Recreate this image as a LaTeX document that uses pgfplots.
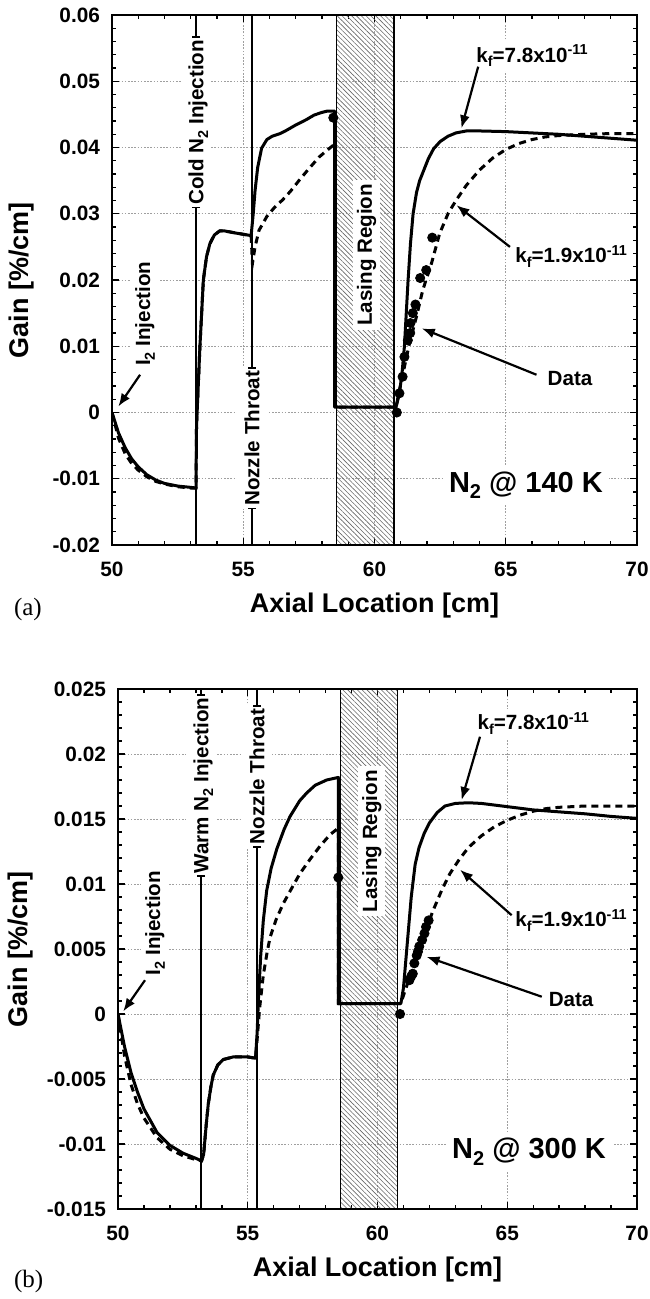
\documentclass[border=0pt]{standalone}
\usepackage{fontspec}
\setmainfont{Liberation Sans}
\newfontfamily\tnr{Liberation Serif}
\usepackage{pgfplots}
\pgfplotsset{compat=1.18}
\usetikzlibrary{patterns.meta, arrows.meta}

\newcommand\tkfont{\fontsize{10.4}{12}\selectfont\bfseries}
\newcommand\afont{\fontsize{10.3}{12}\selectfont\bfseries}
\newcommand\lfont{\fontsize{13.5}{16}\selectfont\bfseries}
\newcommand\capb{\rule[1.7pt]{0.8pt}{4pt}\kern1pt}
\newcommand\cape{\kern1pt\rule[1.7pt]{0.8pt}{4pt}}
% lowered subscripts as in the original figure
\newcommand\sub[1]{\raisebox{-2.4pt}{\fontsize{7.2}{8}\selectfont #1}}
\newcommand\subL[1]{\raisebox{-3.4pt}{\fontsize{10}{11}\selectfont #1}}
\newcommand\sups[1]{\raisebox{3.6pt}{\fontsize{7.2}{8}\selectfont #1}}

\tikzset{
  ann/.style={-{Latex[length=6.5pt,width=5pt]}, line width=1.1pt},
  linelab/.style={rotate=90, fill=white, inner xsep=0pt, inner ysep=4pt,
    text height=7.4pt, text depth=0pt, font=\afont},
  boxlab/.style={fill=white, inner sep=2pt, font=\afont},
}

\pgfplotsset{
  gainax/.style={
    scale only axis, anchor=south west,
    xmin=50, xmax=70, xtick={50,55,60,65,70}, minor x tick num=4,
    minor y tick num=4, scaled y ticks=false,
    xtick pos=both, ytick pos=both, tick align=inside,
    major tick length=3.5pt, minor tick length=2pt,
    every tick/.style={black, line width=0.7pt},
    axis line style={line width=0.8pt},
    grid=major, major grid style={gray!75, line width=0.5pt, dash pattern=on 0.8pt off 0.8pt},
    /pgf/number format/assume math mode=true,
    ticklabel style={font=\tkfont},
    xticklabel style={yshift=-5pt},
    yticklabel style={xshift=-2.5pt},
    xlabel={Axial Location [cm]},
    ylabel={Gain [\%/cm]},
    label style={font=\lfont},
    xlabel style={at={(axis description cs:0.5,0)}, anchor=base, yshift=-33.5pt},
  },
  solidc/.style={black, line width=1.5pt, line join=round},
  dashc/.style={black, line width=1.5pt, dash pattern=on 3.5pt off 2.5pt},
  datam/.style={only marks, mark=*, mark size=2.3pt, black},
  vline/.style={black, line width=1pt},
  lasing/.style={draw=black, line width=0.7pt, pattern={Lines[angle=-45,distance=1.7pt,line width=0.3pt]}, pattern color=black!60},
}

\begin{document}
\begin{tikzpicture}
\useasboundingbox (0,0) rectangle (324.5pt,-649.5pt);

% ---------------- (a) N2 @ 140 K
\begin{axis}[gainax, at={(56pt,-272.5pt)}, width=262.5pt, height=265pt,
  ymin=-0.02, ymax=0.06,
  ytick={-0.02,-0.01,0,0.01,0.02,0.03,0.04,0.05,0.06},
  yticklabels={-0.02,-0.01,0,0.01,0.02,0.03,0.04,0.05,0.06},
  ylabel style={at={(axis description cs:-0.1733,0.5)}, anchor=center},
]
\addplot[lasing] coordinates {(58.55,-0.02) (58.55,0.06) (60.75,0.06) (60.75,-0.02) (58.55,-0.02)};
\addplot[vline] coordinates {(53.2,-0.02) (53.2,0.06)};
\addplot[vline, line width=1.2pt] coordinates {(55.33,-0.02) (55.33,0.06)};

% kf = 1.9e-11
\addplot[dashc] coordinates {
 (50,0) (50.25,-0.0039) (50.5,-0.0062) (50.75,-0.0077) (51,-0.0087) (51.33,-0.0097)
 (51.67,-0.0104) (52,-0.0108) (52.5,-0.0112) (53,-0.0114) (53.2,-0.0114)
 (53.22,-0.002) (53.35,0.010) (53.48,0.020) (53.6,0.0235) (53.73,0.0255) (53.9,0.0268)
 (54.1,0.0274) (54.3,0.0274) (54.7,0.0271) (55.0,0.0269) (55.3,0.0267)
 (55.35,0.0225) (55.45,0.025) (55.6,0.0275) (55.9,0.0296) (56.2,0.031) (56.5,0.0321)
 (56.8,0.0334) (57.14,0.0351) (57.5,0.0368) (57.9,0.0386) (58.2,0.0396) (58.48,0.0405)
 (58.48,0.0008) (60.82,0.0008)
 (60.95,0.0034) (61.14,0.0069) (61.33,0.0104) (61.6,0.0145) (61.84,0.0185) (62.17,0.0225)
 (62.48,0.027) (62.81,0.0301) (63.12,0.0321) (63.5,0.0343) (64.0,0.0366) (64.5,0.0384)
 (65.0,0.0397) (65.5,0.0406) (66.0,0.0412) (66.5,0.0416) (67.0,0.0418) (68.0,0.042)
 (69.0,0.0421) (70.0,0.0421)
};
% kf = 7.8e-11
\addplot[solidc] coordinates {
 (50,0) (50.25,-0.0031) (50.5,-0.0053) (50.75,-0.0070) (51,-0.0082) (51.33,-0.0094)
 (51.67,-0.0102) (52,-0.0107) (52.5,-0.0111) (53,-0.0113) (53.2,-0.0114)
 (53.22,-0.002) (53.35,0.010) (53.48,0.020) (53.6,0.0235) (53.73,0.0255) (53.9,0.0268)
 (54.1,0.0274) (54.3,0.0274) (54.7,0.0271) (55.0,0.0269) (55.3,0.0267)
 (55.38,0.030) (55.45,0.0335) (55.55,0.037) (55.7,0.0399) (55.9,0.0412) (56.1,0.0417)
 (56.4,0.0421) (56.65,0.0426) (57.0,0.0434) (57.4,0.0442) (57.7,0.0449) (58.0,0.0453)
 (58.2,0.0455) (58.48,0.0455)
 (58.48,0.0008) (60.82,0.0008)
 (60.95,0.0029) (61.05,0.006) (61.14,0.010) (61.21,0.015) (61.28,0.020) (61.37,0.0255)
 (61.47,0.030) (61.6,0.0332) (61.72,0.035) (61.84,0.0362) (62.05,0.0383) (62.25,0.0398)
 (62.5,0.0409) (62.8,0.0417) (63.1,0.0422) (63.5,0.0425) (64.0,0.0425) (65.0,0.0424)
 (66.0,0.0422) (67.0,0.042) (68.0,0.0417) (69.0,0.0414) (70.0,0.0411)
};
\addplot[datam] coordinates {
 (58.43,0.0445) (60.85,0) (60.95,0.0029) (61.07,0.0054) (61.14,0.0084) (61.27,0.0109)
 (61.36,0.012) (61.37,0.0135) (61.46,0.015) (61.56,0.0163) (61.74,0.0203) (61.97,0.0215)
 (62.2,0.0264)
};

\node[linelab] at (axis cs:53.2,0.0438) {\capb Cold N\sub{2} Injection\cape};
\node[linelab] at (axis cs:55.33,-0.0039) {\capb Nozzle Throat\cape};
\node[boxlab, rotate=90] at (axis cs:51.26,0.0149) {I\sub{2} Injection};
\draw[ann] (axis cs:51.07,0.0057) -- (axis cs:50.24,0.0009);
\node[boxlab, rotate=90] at (axis cs:59.7,0.0238) {Lasing Region};
\node[boxlab, anchor=base] at (axis cs:66.0,0.0529) {k\sub{f}=7.8x10\sups{-11}};
\draw[ann] (axis cs:63.95,0.0522) -- (axis cs:63.31,0.0429);
\node[boxlab, anchor=base] at (axis cs:67.49,0.02257) {k\sub{f}=1.9x10\sups{-11}};
\draw[ann] (axis cs:65.16,0.025) -- (axis cs:63.12,0.0313);
\node[boxlab, anchor=base] at (axis cs:67.45,0.00415) {Data};
\draw[ann] (axis cs:66.17,0.0057) -- (axis cs:61.8,0.0127);
\node[fill=white, inner sep=3pt, anchor=base, font=\fontsize{14.5}{17}\selectfont\bfseries]
  at (axis cs:65.77,-0.012) {N\subL{2} @ 140 K};
\end{axis}
\node[anchor=base west, font=\tnr\fontsize{12.5}{15}\selectfont] at (3.5pt,-307.5pt) {(a)};

% ---------------- (b) N2 @ 300 K
\begin{axis}[gainax, at={(59pt,-604.5pt)}, width=259.5pt, height=260pt,
  ymin=-0.015, ymax=0.025,
  ytick={-0.015,-0.01,-0.005,0,0.005,0.01,0.015,0.02,0.025},
  yticklabels={-0.015,-0.01,-0.005,0,0.005,0.01,0.015,0.02,0.025},
  ylabel style={at={(axis description cs:-0.1869,0.5)}, anchor=center},
]
\addplot[lasing] coordinates {(58.58,-0.015) (58.58,0.025) (60.78,0.025) (60.78,-0.015) (58.58,-0.015)};
\addplot[vline] coordinates {(53.2,-0.015) (53.2,0.025)};
\addplot[vline, line width=1.2pt] coordinates {(55.36,-0.015) (55.36,0.025)};

% kf = 1.9e-11
\addplot[dashc] coordinates {
 (50,0) (50.25,-0.0032) (50.5,-0.0054) (50.75,-0.0069) (51,-0.008) (51.5,-0.0095)
 (52,-0.0104) (52.5,-0.0109) (53,-0.0112) (53.22,-0.0113)
 (53.3,-0.0108) (53.4,-0.0085) (53.48,-0.0069) (53.58,-0.0056) (53.67,-0.0047)
 (53.85,-0.0039) (54.06,-0.0035) (54.44,-0.0033) (55.0,-0.0033) (55.3,-0.0034)
 (55.38,-0.0015) (55.46,0.0005) (55.6,0.003) (55.75,0.0048) (55.86,0.0059) (56.1,0.0073)
 (56.37,0.0085) (56.7,0.0097) (57.01,0.0108) (57.4,0.0119) (57.78,0.0129) (58.17,0.0138)
 (58.49,0.0143)
 (58.49,0.0008) (60.9,0.0008)
 (61.06,0.0018) (61.3,0.0031) (61.5,0.0043) (61.7,0.0056) (61.9,0.0067) (62.15,0.008)
 (62.47,0.0095) (62.79,0.0108) (63.12,0.0118) (63.5,0.0128) (64.0,0.0137) (64.5,0.0144)
 (65.0,0.0149) (65.5,0.0153) (66.0,0.0156) (66.5,0.0158) (67.0,0.0159) (68.0,0.016)
 (69.0,0.016) (70.0,0.016)
};
% kf = 7.8e-11
\addplot[solidc] coordinates {
 (50,0) (50.25,-0.0025) (50.5,-0.0045) (50.75,-0.006) (51,-0.0073) (51.5,-0.0091)
 (52,-0.0101) (52.5,-0.0107) (53,-0.0111) (53.22,-0.0113)
 (53.3,-0.0108) (53.4,-0.0085) (53.48,-0.0069) (53.58,-0.0056) (53.67,-0.0047)
 (53.85,-0.0039) (54.06,-0.0035) (54.44,-0.0033) (55.0,-0.0033) (55.3,-0.0034)
 (55.36,-0.0015) (55.42,0.0015) (55.5,0.0045) (55.6,0.0072) (55.73,0.0095) (55.9,0.0112)
 (56.12,0.0127) (56.4,0.0142) (56.63,0.0152) (57.0,0.0164) (57.27,0.017) (57.6,0.0176)
 (58.04,0.018) (58.49,0.0182)
 (58.49,0.0008) (60.9,0.0008)
 (61.0,0.002) (61.15,0.0055) (61.3,0.009) (61.45,0.0115) (61.6,0.0128) (61.8,0.0139)
 (62.0,0.0147) (62.3,0.0155) (62.6,0.016) (63.0,0.0162) (63.5,0.01625) (64.0,0.0162)
 (65.0,0.01595) (66.0,0.0157) (67.0,0.01555) (68.0,0.0154) (69.0,0.0152) (70.0,0.01505)
};
\addplot[datam] coordinates {
 (58.49,0.0105) (60.87,0) (61.23,0.0026) (61.3,0.0029) (61.36,0.0031) (61.42,0.0039)
 (61.51,0.0045) (61.56,0.0048) (61.61,0.0052) (61.72,0.0057) (61.81,0.0062)
 (61.87,0.0067) (61.97,0.0072)
};

\node[linelab] at (axis cs:53.2,0.01758) {\capb Warm N\sub{2} Injection\cape};
\node[linelab] at (axis cs:55.36,0.01827) {\capb Nozzle Throat\cape};
\node[boxlab, rotate=90] at (axis cs:51.43,0.007) {I\sub{2} Injection};
\draw[ann] (axis cs:51.04,0.0026) -- (axis cs:50.2,0.0002);
\node[boxlab, rotate=90] at (axis cs:59.78,0.0133) {Lasing Region};
\node[boxlab, anchor=base] at (axis cs:66.0,0.02185) {k\sub{f}=7.8x10\sups{-11}};
\draw[ann] (axis cs:63.95,0.02133) -- (axis cs:63.24,0.01646);
\node[boxlab, anchor=base] at (axis cs:67.46,0.00672) {k\sub{f}=1.9x10\sups{-11}};
\draw[ann] (axis cs:65.17,0.0076) -- (axis cs:63.18,0.0111);
\node[boxlab, anchor=base] at (axis cs:67.46,0.00056) {Data};
\draw[ann] (axis cs:66.33,0.00133) -- (axis cs:61.89,0.0044);
\node[fill=white, inner sep=3pt, anchor=base, font=\fontsize{14.5}{17}\selectfont\bfseries]
  at (axis cs:65.84,-0.0111) {N\subL{2} @ 300 K};
\end{axis}
\node[anchor=base west, font=\tnr\fontsize{12.5}{15}\selectfont] at (3.5pt,-643.5pt) {(b)};
\end{tikzpicture}
\end{document}
